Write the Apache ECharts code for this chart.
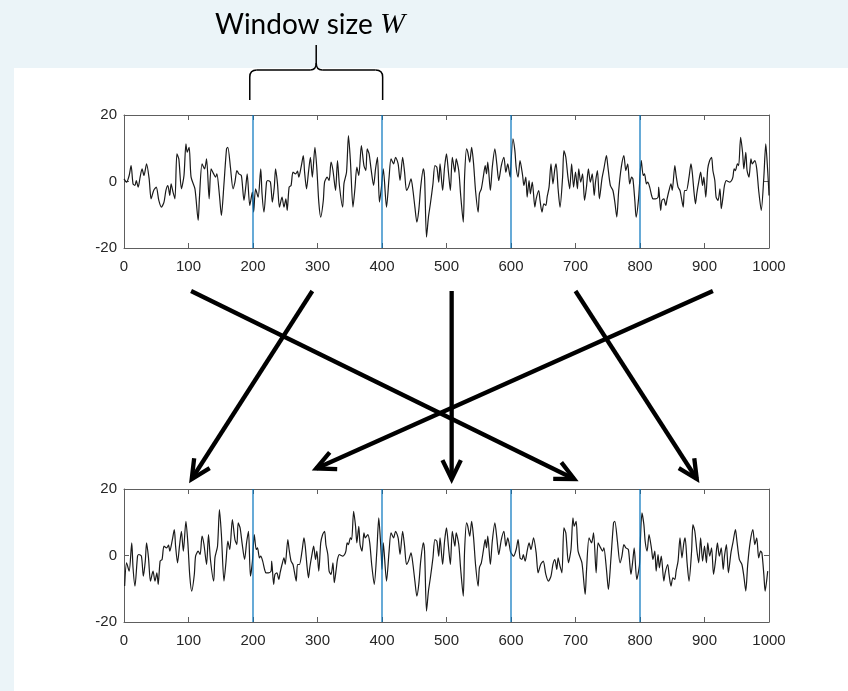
<!DOCTYPE html>
<html>
<head>
<meta charset="utf-8">
<script src="https://cdn.jsdelivr.net/npm/echarts@6/dist/echarts.min.js"></script>
<style>
  html, body { margin: 0; padding: 0; background: #ebf4f8; }
  #panel { position: absolute; left: 14px; top: 68px; right: 0; bottom: 0; background: #fff; }
  #chart { position: absolute; left: 0; top: 0; width: 848px; height: 691px; }
</style>
</head>
<body>
<div id="panel"></div>
<div id="chart"></div>
<script>
// each block: [offset inside the 200-sample window, value]
var block1 = [[0,0.8],[4,-0.2],[8,1.8],[11,4.8],[14,-0.7],[17,-1.2],[19,0.3],[22,-1.7],[25,1.3],[28,3.8],[31,1.8],[35,5.3],[39,0.8],[42,-5.2],[46,-2.7],[50,-1.7],[54,-5.7],[58,-7.7],[62,-6.2],[65,-2.7],[68,-1.2],[71,-4.2],[73,-0.7],[76,-3.2],[79,-5.2],[82,8.3],[85,6.8],[89,-2.2],[93,1.8],[96,11.3],[98,8.8],[101,10.3],[104,1.3],[110,-2.2],[115,-11.7],[117,-4.7],[121,5.3],[125,3.8],[128,6.8],[132,-5.2],[135,3.8],[139,2.3],[142,1.3],[144,2.3],[148,-4.2],[151,-10.2],[155,-0.7],[159,9.8],[161,10.3],[165,4.3],[169,-2.2],[172,-0.2],[175,3.3],[178,2.3],[182,1.8],[186,-5.7],[189,-1.2],[191,2.3],[195,-7.2],[199,-3.2]];
var block2 = [[1,-9.2],[4,-2.2],[8,-4.7],[12,3.8],[14,-3.7],[17,-9.2],[21,-0.2],[23,0.3],[27,-0.2],[30,-6.2],[33,-1.7],[35,3.8],[38,-0.7],[41,-7.7],[45,-4.7],[48,-7.7],[51,-5.2],[53,-8.7],[56,-1.7],[59,-1.2],[62,2.8],[66,2.3],[69,3.1],[71,1.3],[75,4.8],[78,7.8],[80,2.8],[83,-2.2],[86,2.8],[89,7.3],[92,1.3],[96,10.3],[99,3.8],[102,-6.2],[105,-10.7],[109,-5.7],[111,-0.2],[115,1.3],[118,0.3],[121,5.8],[124,3.3],[128,-2.7],[131,6.3],[134,-1.2],[139,-7.7],[141,-0.7],[145,2.8],[148,13.8],[151,6.3],[155,-7.7],[158,-2.2],[161,4.3],[164,1.8],[168,10.8],[172,4.8],[175,3.3],[177,9.8],[180,8.3],[183,3.8],[187,-1.2],[190,3.8],[193,7.3],[196,-6.2],[199,-2.0]];
var block3 = [[2,3.8],[7,-7.7],[11,1.3],[14,6.8],[18,5.3],[21,7.3],[25,5.3],[28,0.3],[32,7.3],[35,2.8],[38,-2.7],[41,-1.7],[45,0.8],[48,-2.7],[51,-7.7],[54,-12.2],[57,-8.7],[60,-1.7],[64,3.8],[66,1.3],[69,-16.7],[72,-10.7],[75,-6.7],[79,-0.7],[82,4.8],[85,4.3],[88,-0.2],[90,5.3],[94,-2.7],[97,4.3],[100,8.3],[103,2.8],[106,-2.7],[109,7.3],[113,2.8],[115,6.8],[119,3.3],[122,-4.2],[126,-12.2],[128,1.3],[131,9.8],[133,8.8],[136,5.8],[139,10.3],[142,5.3],[145,-2.7],[149,-9.2],[151,-3.7],[154,-2.2],[157,1.3],[160,4.8],[162,2.3],[164,5.8],[168,-2.7],[171,4.3],[175,9.8],[178,5.3],[181,0.3],[185,4.8],[189,7.3],[192,2.8],[195,5.3],[199,1.3]];
var block4 = [[0,1.3],[3,12.8],[6,9.3],[8,4.3],[11,1.3],[14,6.3],[18,1.8],[20,-1.2],[23,1.3],[25,-4.7],[28,0.3],[30,-3.7],[33,-0.2],[37,-7.7],[39,-5.2],[43,-2.7],[45,-5.7],[48,-9.2],[51,-6.7],[54,-7.2],[56,-4.7],[59,-1.7],[62,5.3],[65,-0.7],[68,3.8],[70,5.3],[73,-2.2],[76,-7.7],[80,1.3],[82,9.3],[85,7.3],[88,1.8],[91,-2.2],[94,5.3],[97,-1.7],[100,2.8],[103,-2.2],[105,3.8],[108,-0.2],[111,2.3],[114,-5.7],[117,-1.7],[120,3.8],[123,-0.2],[126,2.3],[129,-4.2],[131,-0.2],[134,3.3],[137,-5.2],[141,0.8],[144,3.8],[148,7.8],[150,4.8],[154,-1.2],[158,-2.7],[161,-6.2],[164,-10.7],[167,-2.7],[171,4.3],[175,7.8],[178,3.3],[181,5.3],[184,-0.7],[187,1.3],[189,0.8],[192,-5.7],[194,-10.7],[198,-4.7]];
var block5 = [[2,6.3],[5,1.8],[7,2.3],[10,-0.7],[12,-0.2],[15,-1.7],[18,-4.2],[20,-5.2],[24,-5.2],[28,-4.7],[29,-1.7],[32,-8.7],[34,-5.7],[37,-5.2],[40,-7.2],[42,-5.2],[45,-2.7],[48,-0.7],[50,-2.7],[54,4.8],[56,1.8],[59,-1.7],[62,-2.7],[64,-4.7],[67,-7.7],[69,-2.7],[72,-2.7],[76,1.3],[79,5.3],[81,2.8],[84,-3.7],[86,-6.7],[88,-3.7],[91,-0.2],[94,2.8],[97,-1.2],[99,1.3],[102,-4.7],[105,3.8],[108,6.3],[111,7.3],[113,3.3],[116,0.3],[118,-4.7],[121,-5.7],[124,-2.2],[126,-8.2],[129,-4.2],[131,-1.2],[134,0.3],[136,0.1],[139,-0.2],[142,0.3],[144,1.3],[146,3.8],[148,3.3],[151,5.3],[153,4.8],[156,13.3],[159,8.8],[161,3.8],[164,8.8],[166,3.3],[169,1.3],[172,6.8],[174,5.3],[178,6.3],[181,3.8],[184,-2.7],[188,-8.7],[192,1.3],[195,11.3],[197,6.3],[199,-0.2],[200,-4.2]];

var blocks = [block1, block2, block3, block4, block5];
var blockLen = 200;
// which original block sits in each slot of the shuffled signal
var shuffledOrder = [1, 4, 2, 0, 3];
var boundaries = [200, 400, 600, 800];

// arrows: start x (top), end x (bottom), end level (0 = bottom row)
var arrowFromX = [292, 104, 508, 700, 913];
var arrowToX = [105, 698, 508, 888, 298];
var arrowToY = [0, 0, 0, 0, 0.056];
var braceRange = [195, 401];

function buildSeries(order) {
  var out = [];
  order.forEach(function (b, slot) {
    blocks[b].forEach(function (p) { out.push([slot * blockLen + p[0], p[1]]); });
  });
  return out;
}
var originalSignal = buildSeries([0, 1, 2, 3, 4]);
var shuffledSignal = buildSeries(shuffledOrder);
var arrows = arrowFromX.map(function (x, i) { return [x, 1, arrowToX[i], arrowToY[i]]; });

var textColor = '#262626';
var labelFont = 'Liberation Sans';
var frameColor = '#5e5e5e';

function plotGrid(top) {
  return { left: 124, top: top, width: 645, height: 133, show: false };
}
function xAx(grid, pos, labels) {
  return { type: 'value', gridIndex: grid, position: pos, min: 0, max: 1000, interval: 100,
    axisLine: { show: true, onZero: false, lineStyle: { color: frameColor, width: 1 } },
    splitLine: { show: false },
    axisTick: { show: true, inside: true, length: 5, lineStyle: { color: frameColor } },
    axisLabel: { show: labels, fontSize: 15, color: textColor, fontFamily: labelFont, margin: 11,
      formatter: function (v) { return String(v); } } };
}
function yAx(grid, pos, labels) {
  return { type: 'value', gridIndex: grid, position: pos, min: -20, max: 20, interval: 20,
    axisLine: { show: true, onZero: false, lineStyle: { color: frameColor, width: 1 } },
    splitLine: { show: false },
    axisTick: { show: true, inside: true, length: 5, lineStyle: { color: frameColor } },
    axisLabel: { show: labels, fontSize: 15, color: textColor, fontFamily: labelFont, margin: 7,
      formatter: function (v) { return String(v); } } };
}
function lineSeries(xi, yi, data) {
  return { type: 'line', xAxisIndex: xi, yAxisIndex: yi, data: data, showSymbol: false,
    smooth: 0.25, animation: false, z: 2, lineStyle: { color: '#1a1a1a', width: 1.2 } };
}
// blue window separators, one full-height line per boundary value
function boundarySeries(xi, yi) {
  return { type: 'custom', xAxisIndex: xi, yAxisIndex: yi, silent: true, z: 3,
    data: boundaries.map(function (v) { return [v]; }),
    renderItem: function (params, api) {
      var top = api.coord([api.value(0), 20]);
      var bot = api.coord([api.value(0), -20]);
      return { type: 'line', shape: { x1: top[0], y1: top[1], x2: bot[0], y2: bot[1] },
        style: { stroke: '#0072BD', lineWidth: 1.2 } };
    } };
}

var chart = echarts.init(document.getElementById('chart'), null, { renderer: 'canvas' });
chart.setOption({
  backgroundColor: 'transparent',
  animation: false,
  title: {
    text: '{a|Window size }{b|W}', left: 210, top: 5,
    textStyle: { fontWeight: 'normal', rich: {
      a: { fontFamily: 'Lato', fontWeight: 'normal', fontSize: 28, color: '#000' },
      b: { fontFamily: 'Liberation Serif', fontStyle: 'italic', fontWeight: 'normal', fontSize: 30, color: '#000' }
    } }
  },
  grid: [plotGrid(115), plotGrid(489), { left: 124, top: 291, width: 645, height: 188, show: false }],
  xAxis: [xAx(0, 'bottom', true), xAx(0, 'top', false), xAx(1, 'bottom', true), xAx(1, 'top', false),
    { type: 'value', gridIndex: 2, min: 0, max: 1000, show: false }],
  yAxis: [yAx(0, 'left', true), yAx(0, 'right', false), yAx(1, 'left', true), yAx(1, 'right', false),
    { type: 'value', gridIndex: 2, min: 0, max: 1, show: false }],
  series: [
    lineSeries(0, 0, originalSignal),
    lineSeries(2, 2, shuffledSignal),
    boundarySeries(0, 0),
    boundarySeries(2, 2),
    {
      type: 'custom', xAxisIndex: 4, yAxisIndex: 4, data: arrows, silent: true, z: 5,
      renderItem: function (params, api) {
        var p1 = api.coord([api.value(0), api.value(1)]);
        var p2 = api.coord([api.value(2), api.value(3)]);
        var ang = Math.atan2(p1[1] - p2[1], p1[0] - p2[0]);
        var wing = 21, spread = 26 * Math.PI / 180;
        var w1 = [p2[0] + wing * Math.cos(ang + spread), p2[1] + wing * Math.sin(ang + spread)];
        var w2 = [p2[0] + wing * Math.cos(ang - spread), p2[1] + wing * Math.sin(ang - spread)];
        var st = { stroke: '#000', lineWidth: 4.3, fill: null, lineCap: 'butt', lineJoin: 'miter' };
        return { type: 'group', children: [
          { type: 'line', shape: { x1: p1[0], y1: p1[1], x2: p2[0], y2: p2[1] }, style: st },
          { type: 'polyline', shape: { points: [w1, p2, w2] }, style: st }
        ] };
      }
    }
  ]
});

// brace over one window of the top plot
var bl = chart.convertToPixel({ gridIndex: 0 }, [braceRange[0], 20])[0];
var br = chart.convertToPixel({ gridIndex: 0 }, [braceRange[1], 20])[0];
var bc = (bl + br) / 2;
var bs = { stroke: '#000', lineWidth: 1.5, fill: null };
chart.setOption({
  graphic: [
    { type: 'line', silent: true, shape: { x1: bl, y1: 100, x2: bl, y2: 77 }, style: bs },
    { type: 'bezierCurve', silent: true, shape: { x1: bl, y1: 77, cpx1: bl, cpy1: 70, x2: bl + 7, y2: 70 }, style: bs },
    { type: 'line', silent: true, shape: { x1: bl + 7, y1: 70, x2: bc - 6, y2: 70 }, style: bs },
    { type: 'bezierCurve', silent: true, shape: { x1: bc - 6, y1: 70, cpx1: bc, cpy1: 70, x2: bc, y2: 63 }, style: bs },
    { type: 'line', silent: true, shape: { x1: bc, y1: 63, x2: bc, y2: 45 }, style: bs },
    { type: 'bezierCurve', silent: true, shape: { x1: bc, y1: 63, cpx1: bc, cpy1: 70, x2: bc + 6, y2: 70 }, style: bs },
    { type: 'line', silent: true, shape: { x1: bc + 6, y1: 70, x2: br - 7, y2: 70 }, style: bs },
    { type: 'bezierCurve', silent: true, shape: { x1: br - 7, y1: 70, cpx1: br, cpy1: 70, x2: br, y2: 77 }, style: bs },
    { type: 'line', silent: true, shape: { x1: br, y1: 77, x2: br, y2: 100 }, style: bs }
  ]
});
</script>
</body>
</html>
